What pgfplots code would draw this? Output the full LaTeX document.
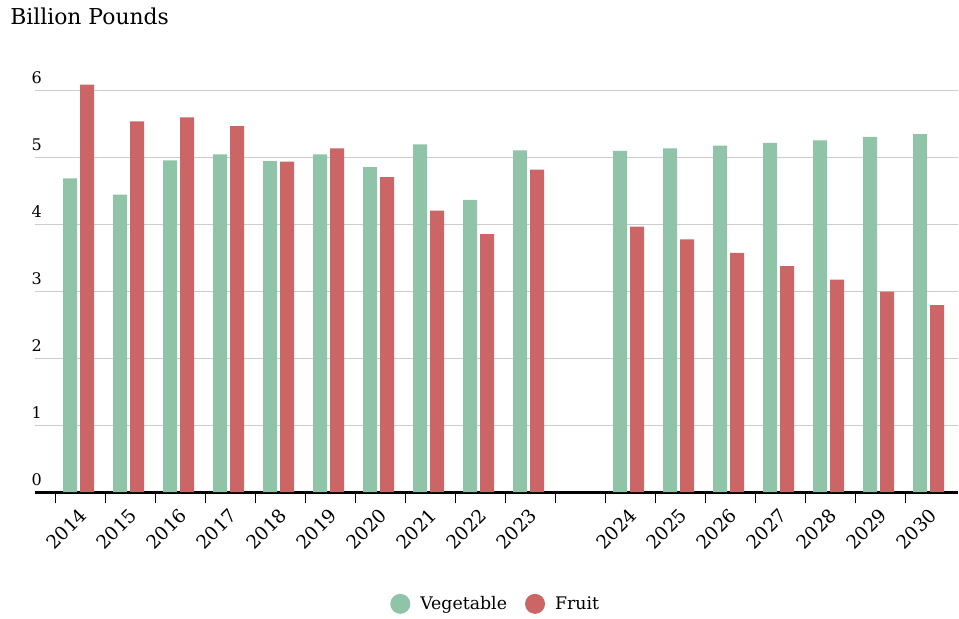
\documentclass[border=0pt]{standalone}
\usepackage{pgfplots}
\usepackage{pgfplotstable}
\pgfplotsset{compat=1.18}
\usepackage{fontspec}
\setmainfont{DejaVu Serif}

\definecolor{veg}{HTML}{8FC4A8}
\definecolor{fruit}{HTML}{CC6666}
\definecolor{gridgray}{HTML}{CCCCCC}

% x: 0..9 = 2014..2023, 10 left empty, 11..17 = 2024..2030
\pgfplotstableread{
x  veg   fruit
0  4.68  6.08
1  4.44  5.53
2  4.95  5.59
3  5.04  5.46
4  4.94  4.93
5  5.04  5.13
6  4.85  4.70
7  5.19  4.20
8  4.36  3.85
9  5.10  4.81
11 5.09  3.96
12 5.13  3.77
13 5.17  3.57
14 5.21  3.37
15 5.25  3.17
16 5.30  2.99
17 5.34  2.79
}\prod

\begin{document}
\begin{tikzpicture}
\path[use as bounding box] (0,0) rectangle (719.25pt,463.5pt);
\begin{axis}[
    at={(26.25pt,94.5pt)}, anchor=south west,
    scale only axis,
    width=692.25pt, height=316.575pt,
    xmin=-0.87, xmax=17.59,
    ymin=0, ymax=6.3,
    ybar=2.25pt, bar width=10.5pt,
    axis x line*=bottom, axis y line*=left,
    y axis line style={draw=none},
    x axis line style={line width=2.25pt, black},
    /pgf/number format/assume math mode=true,
    ytick={0,1,...,6},
    ymajorgrids,
    grid style={gridgray, line width=0.75pt},
    ytick style={draw=none},
    yticklabel style={anchor=base west, inner sep=0pt, xshift=1.5pt, yshift=5.25pt,
        font=\fontsize{12}{14}\selectfont},
    xtick={0,...,9,11,12,...,17},
    xticklabels={2014,2015,2016,2017,2018,2019,2020,2021,2022,2023,
                 2024,2025,2026,2027,2028,2029,2030},
    major x tick style={draw=none},
    minor xtick={-0.47,0.53,...,16.53},
    minor x tick style={draw=black, line width=0.75pt},
    minor tick length=8.5pt,
    tick align=outside,
    xticklabel style={rotate=45, anchor=east, inner sep=0pt, xshift=-5pt, yshift=-10pt,
        font=\fontsize{14}{16}\selectfont},
    title={Billion Pounds},
    title style={at={(-0.0271,1.088)}, anchor=base west, inner sep=0pt,
        font=\fontsize{16.4}{19}\selectfont},
    legend style={at={(0.498,-0.265)}, anchor=center, draw=none,
        legend columns=2, nodes={inner sep=0pt},
        font=\fontsize{13}{15}\selectfont,
        /tikz/every odd column/.append style={column sep=7.5pt},
        /tikz/every even column/.append style={column sep=13.5pt}},
    every axis plot post/.append style={
        legend image code/.code={\fill (7.5pt,0pt) circle (7.5pt);}},
]
\addplot[fill=veg, draw=none] table[x=x, y=veg] {\prod};
\addlegendentry{Vegetable}
\addplot[fill=fruit, draw=none] table[x=x, y=fruit] {\prod};
\addlegendentry{Fruit}
\end{axis}
\end{tikzpicture}
\end{document}
